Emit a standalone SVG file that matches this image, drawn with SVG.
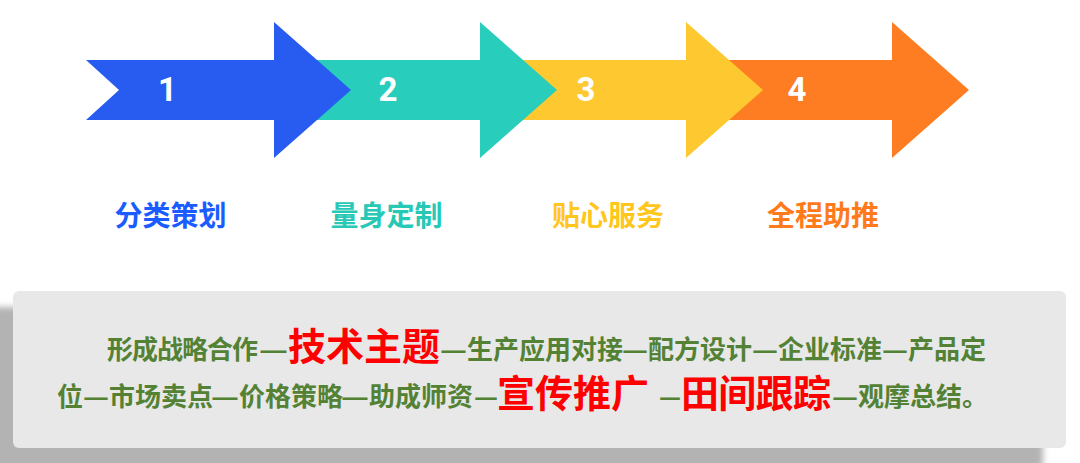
<svg xmlns="http://www.w3.org/2000/svg" width="1080" height="463" viewBox="0 0 1080 463">
<defs>
<style>
.num{font-family:Roboto,"Liberation Sans",sans-serif;font-weight:700;font-size:33px;fill:#fff;text-anchor:middle}
.lbl{font-family:"Noto Sans CJK SC","Noto Sans",sans-serif;font-weight:700;font-size:28px;text-anchor:middle}
.g{font-family:"Noto Sans CJK SC","Noto Sans",sans-serif;font-weight:700;font-size:26px;fill:#548235}
.r{font-family:"Noto Sans CJK SC","Noto Sans",sans-serif;font-weight:700;font-size:38px;fill:#ff0000}
</style>
<path id="arrow" d="M86,60 L274,60 L274,22 L351,90 L274,158 L274,120 L86,120 L119,90 Z"/>
<filter id="blur" x="-5%" y="-20%" width="110%" height="140%"><feGaussianBlur stdDeviation="3"/></filter>
</defs>
<g id="arrows">
<g id="arrow4"><use href="#arrow" x="618" fill="#ff7d22"/><text class="num" x="797" y="101">4</text></g>
<g id="arrow3"><use href="#arrow" x="412" fill="#fec830"/><text class="num" x="586" y="101">3</text></g>
<g id="arrow2"><use href="#arrow" x="206" fill="#29cdbb"/><text class="num" x="388" y="101">2</text></g>
<g id="arrow1"><use href="#arrow" x="0" fill="#285cf0"/><text class="num" x="167.5" y="101">1</text></g>
</g>
<g id="labels">
<text id="label1" class="lbl" x="170.5" y="226" fill="#1a5cff">分类策划</text>
<text id="label2" class="lbl" x="386.5" y="226" fill="#27c9b6">量身定制</text>
<text id="label3" class="lbl" x="608" y="226" fill="#ffc61e">贴心服务</text>
<text id="label4" class="lbl" x="823" y="226" fill="#ff7a1a">全程助推</text>
</g>
<g id="panel">
<rect x="-9" y="307" width="1052" height="162" rx="6" fill="#b3b3b3" filter="url(#blur)"/>
<rect x="13" y="291" width="1053" height="157" rx="6" fill="#e8e8e8"/>
<text class="g" x="107" y="359" textLength="151" lengthAdjust="spacing">形成战略合作</text>
<text class="g" x="259" y="359" textLength="29" lengthAdjust="spacingAndGlyphs">—</text>
<text class="r" x="288" y="360">技术主题</text>
<text class="g" x="440" y="359" textLength="27" lengthAdjust="spacingAndGlyphs">—</text>
<text class="g" x="467" y="359">生产应用对接</text>
<text class="g" x="622" y="359" textLength="26" lengthAdjust="spacingAndGlyphs">—</text>
<text class="g" x="648" y="359">配方设计</text>
<text class="g" x="752" y="359" textLength="26" lengthAdjust="spacingAndGlyphs">—</text>
<text class="g" x="778" y="359">企业标准</text>
<text class="g" x="882" y="359" textLength="26" lengthAdjust="spacingAndGlyphs">—</text>
<text class="g" x="908" y="359">产品定</text>
<text class="g" x="57" y="406">位</text>
<text class="g" x="83" y="406" textLength="26" lengthAdjust="spacingAndGlyphs">—</text>
<text class="g" x="109" y="406">市场卖点</text>
<text class="g" x="211" y="406" textLength="28" lengthAdjust="spacingAndGlyphs">—</text>
<text class="g" x="239" y="406">价格策略</text>
<text class="g" x="341" y="406" textLength="28" lengthAdjust="spacingAndGlyphs">—</text>
<text class="g" x="369" y="406">助成师资</text>
<text class="g" x="474" y="406" textLength="24" lengthAdjust="spacingAndGlyphs">—</text>
<text class="r" x="497" y="407">宣传推广</text>
<text class="g" x="659" y="406" textLength="22" lengthAdjust="spacingAndGlyphs">—</text>
<text class="r" x="681" y="407" textLength="150" lengthAdjust="spacing">田间跟踪</text>
<text class="g" x="832" y="406" textLength="26" lengthAdjust="spacingAndGlyphs">—</text>
<text class="g" x="858" y="406">观摩总结。</text>
</g>
</svg>
